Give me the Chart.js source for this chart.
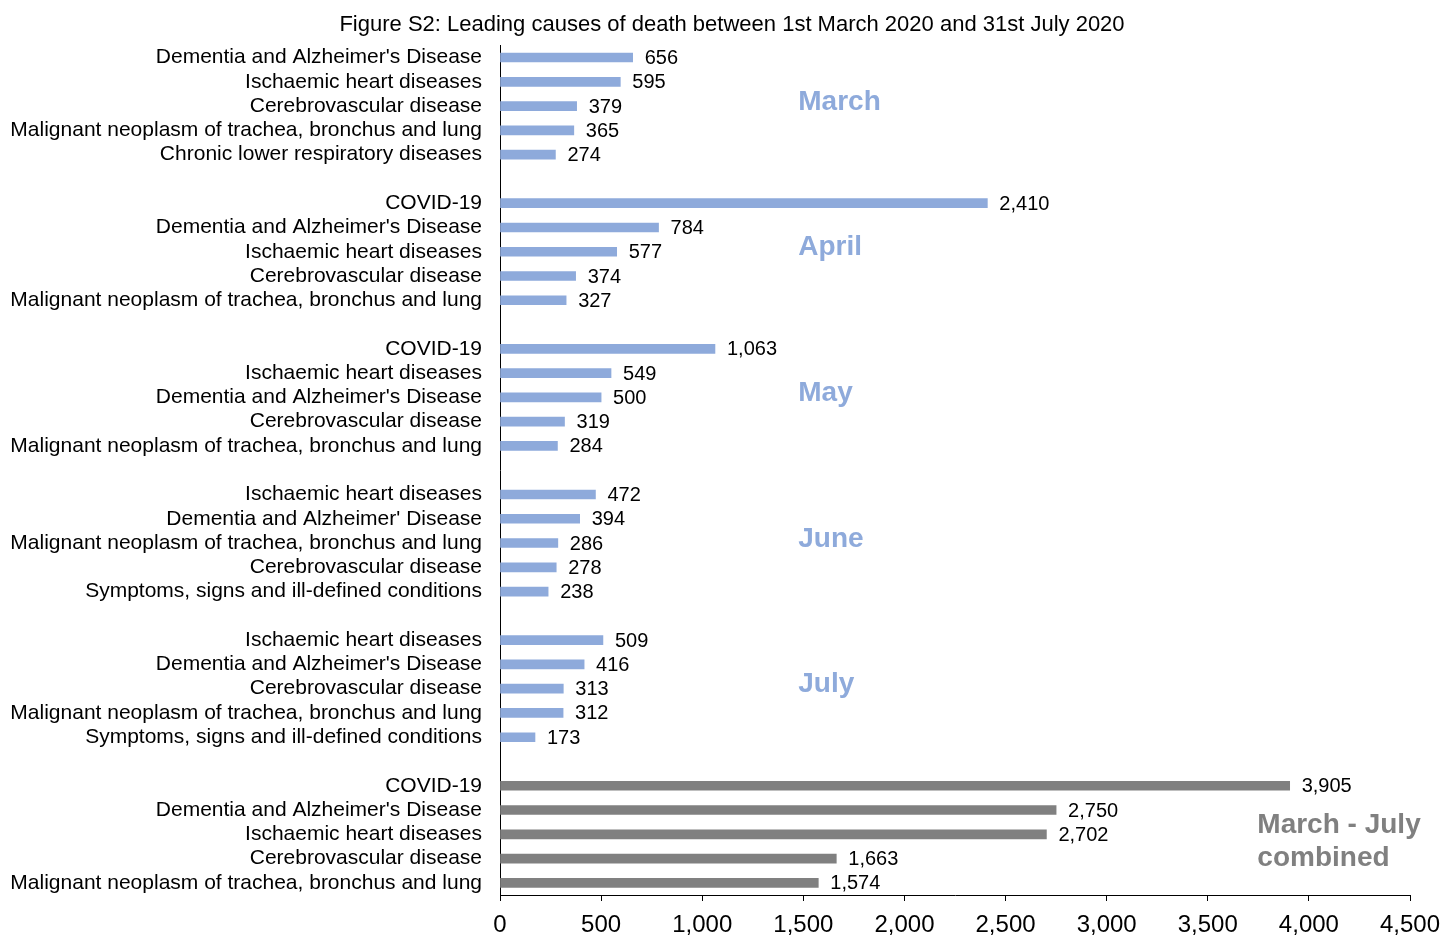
<!DOCTYPE html>
<html>
<head>
<meta charset="utf-8">
<script src="https://cdn.jsdelivr.net/npm/chart.js@4"></script>
<style>
  html, body { margin: 0; padding: 0; background: #fff; }
  #wrap { width: 1454px; height: 935px; }
</style>
</head>
<body>
<div id="wrap"><canvas id="deathChart"></canvas></div>
<script>
const marchCauses = ["Dementia and Alzheimer's Disease", 'Ischaemic heart diseases', 'Cerebrovascular disease', 'Malignant neoplasm of trachea, bronchus and lung', 'Chronic lower respiratory diseases'];
const marchValues = [656, 595, 379, 365, 274];

const aprilCauses = ['COVID-19', "Dementia and Alzheimer's Disease", 'Ischaemic heart diseases', 'Cerebrovascular disease', 'Malignant neoplasm of trachea, bronchus and lung'];
const aprilValues = [2410, 784, 577, 374, 327];

const mayCauses = ['COVID-19', 'Ischaemic heart diseases', "Dementia and Alzheimer's Disease", 'Cerebrovascular disease', 'Malignant neoplasm of trachea, bronchus and lung'];
const mayValues = [1063, 549, 500, 319, 284];

const juneCauses = ['Ischaemic heart diseases', "Dementia and Alzheimer' Disease", 'Malignant neoplasm of trachea, bronchus and lung', 'Cerebrovascular disease', 'Symptoms, signs and ill-defined conditions'];
const juneValues = [472, 394, 286, 278, 238];

const julyCauses = ['Ischaemic heart diseases', "Dementia and Alzheimer's Disease", 'Cerebrovascular disease', 'Malignant neoplasm of trachea, bronchus and lung', 'Symptoms, signs and ill-defined conditions'];
const julyValues = [509, 416, 313, 312, 173];

const combinedCauses = ['COVID-19', "Dementia and Alzheimer's Disease", 'Ischaemic heart diseases', 'Cerebrovascular disease', 'Malignant neoplasm of trachea, bronchus and lung'];
const combinedValues = [3905, 2750, 2702, 1663, 1574];

const groupNames = ['March', 'April', 'May', 'June', 'July', 'March - July combined'];
const xTicks = [0, 500, 1000, 1500, 2000, 2500, 3000, 3500, 4000, 4500];

const FONT = 'Arial, "Liberation Sans", sans-serif';
const BLUE = '#8eaadb';
const GREY = '#808080';

// flatten groups, blank row between them
const groups = [
    [marchCauses, marchValues],
    [aprilCauses, aprilValues],
    [mayCauses, mayValues],
    [juneCauses, juneValues],
    [julyCauses, julyValues],
    [combinedCauses, combinedValues]
];

const labels = [];
const values = [];
const colors = [];
const groupStart = [];

groups.forEach(([causes, vals], g) => {
    if (g > 0) {
        labels.push('');
        values.push(null);
        colors.push(BLUE);
    }
    groupStart.push(labels.length);
    causes.forEach((c, i) => {
        labels.push(c);
        values.push(vals[i]);
        colors.push(g === groups.length - 1 ? GREY : BLUE);
    });
});

Chart.register({

    id: 'valueLabels',

    afterDatasetsDraw(chart) {

        const {ctx} = chart;
        const xScale = chart.scales.x;
        const yScale = chart.scales.y;

        chart.data.datasets.forEach((dataset, i) => {

            const meta = chart.getDatasetMeta(i);

            meta.data.forEach((bar, index) => {

                const value = dataset.data[index];
                if (value === null) return;

                ctx.save();
                ctx.fillStyle = '#000';
                ctx.font = '20px ' + FONT;
                ctx.textAlign = 'left';
                ctx.textBaseline = 'middle';
                ctx.fillText(value.toLocaleString('en-US'), bar.x + 12, bar.y + 1);
                ctx.restore();

            });

        });

        // group names
        ctx.save();
        ctx.textAlign = 'left';
        ctx.textBaseline = 'middle';
        ctx.font = 'bold 28px ' + FONT;

        groupNames.forEach((name, g) => {

            const y = yScale.getPixelForValue(groupStart[g] + 2);

            if (g === groupNames.length - 1) {
                ctx.fillStyle = GREY;
                const x = xScale.getPixelForValue(3745);
                ctx.fillText('March - July', x, y - 9);
                ctx.fillText('combined', x, y + 24);
            } else {
                ctx.fillStyle = BLUE;
                ctx.fillText(name, xScale.getPixelForValue(1475), y - 4);
            }

        });

        ctx.restore();

    }

});

const ctx = document.getElementById('deathChart');

new Chart(ctx, {
    type: 'bar',

    data: {
        labels: labels,
        datasets: [{
            data: values,
            backgroundColor: colors,
            barThickness: 9
        }]
    },

    options: {

        indexAxis: 'y',
        responsive: true,
        maintainAspectRatio: false,
        animation: false,

        layout: {
            padding: { left: 10, right: 0, top: 0, bottom: 0 }
        },

        plugins: {

            legend: {
                display: false
            },

            tooltip: {
                enabled: false
            },

            title: {
                display: true,
                text: 'Figure S2: Leading causes of death between 1st March 2020 and 31st July 2020',
                color: '#000',
                font: { family: FONT, size: 22, weight: 'normal' },
                padding: { top: 12, bottom: 7 }
            }

        },

        scales: {

            x: {

                min: 0,
                max: 4500,

                afterBuildTicks(scale) {
                    scale.ticks = xTicks.map(v => ({ value: v }));
                },

                afterFit(scale) {
                    scale.height = 40;
                    scale.paddingRight = 44;
                },

                ticks: {
                    color: '#000',
                    font: { family: FONT, size: 24, lineHeight: 1 },
                    padding: 12,
                    maxRotation: 0,
                    callback: v => v.toLocaleString('en-US')
                },

                grid: {
                    drawOnChartArea: false,
                    color: '#000',
                    tickLength: 6
                },

                border: {
                    color: '#000',
                    width: 1
                }

            },

            y: {

                afterFit(scale) {
                    scale.width = 490;
                },

                ticks: {
                    color: '#000',
                    font: { family: FONT, size: 21 },
                    padding: 18,
                    autoSkip: false
                },

                grid: {
                    display: false,
                    drawTicks: false
                },

                border: {
                    color: '#000',
                    width: 1
                }

            }

        }

    }

});
</script>
</body>
</html>
